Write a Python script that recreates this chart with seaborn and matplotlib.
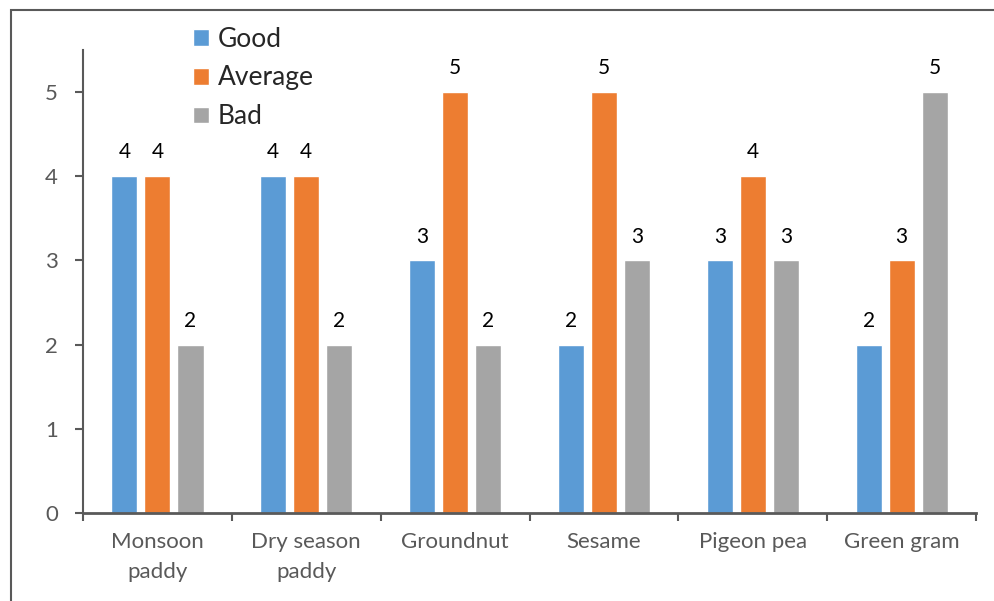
import pandas as pd
import seaborn as sns
import matplotlib.pyplot as plt
from matplotlib.patches import Rectangle

# Chart data
crops = ["Monsoon\npaddy", "Dry season\npaddy", "Groundnut", "Sesame", "Pigeon pea", "Green gram"]
good = [4, 4, 3, 2, 3, 2]
average = [4, 4, 5, 5, 4, 3]
bad = [2, 2, 2, 3, 3, 5]
ratings = ["Good", "Average", "Bad"]
colors = ["#5b9bd5", "#ed7d31", "#a5a5a5"]

rows = []
for i, crop in enumerate(crops):
    rows.append({"Crop": crop, "Rating": "Good", "Score": good[i]})
    rows.append({"Crop": crop, "Rating": "Average", "Score": average[i]})
    rows.append({"Crop": crop, "Rating": "Bad", "Score": bad[i]})
df = pd.DataFrame(rows)

sns.set_style("white")
plt.rcParams['font.family'] = ['Lato', 'DejaVu Sans']
grey = "#595959"

fig = plt.figure(figsize=(9.95, 6.01), dpi=100)
ax = fig.add_axes([0.0834, 0.1464, 0.8976, 0.7704])

sns.barplot(data=df, x="Crop", y="Score", hue="Rating", hue_order=ratings,
            palette=colors, width=0.666, gap=0.21, saturation=1, ax=ax)

# value labels on top of bars
for container in ax.containers:
    ax.bar_label(container, padding=10, fontsize=15, color="black")

ax.set_xlim(-0.5, len(crops) - 0.5)
ax.set_ylim(0, 5.5)
ax.set_yticks(range(0, 6))
ax.set_xlabel("")
ax.set_ylabel("")

# category ticks between groups, labels centred under groups
ax.set_xticks([i - 0.5 for i in range(len(crops) + 1)])
ax.set_xticklabels([])
ax.set_xticks(range(len(crops)), minor=True)
ax.set_xticklabels(crops, minor=True, linespacing=1.6)
ax.tick_params(axis="x", which="major", length=6, width=1.5, color=grey, direction="out", bottom=True)
ax.tick_params(axis="x", which="minor", length=0, pad=14, labelsize=16, labelcolor=grey)
ax.tick_params(axis="y", length=6, width=1.5, color=grey, direction="out", left=True,
               labelsize=16, labelcolor=grey, pad=12)

for side in ["top", "right"]:
    ax.spines[side].set_visible(False)
ax.spines["left"].set_color(grey)
ax.spines["left"].set_linewidth(1.5)
ax.spines["bottom"].set_color(grey)
ax.spines["bottom"].set_linewidth(2)

leg = ax.legend(loc="upper left", bbox_to_anchor=(0.111, 1.073), frameon=False,
                fontsize=19, handlelength=0.6, handleheight=0.6, handletextpad=0.35,
                labelspacing=0.52, borderaxespad=0)

# outer chart frame (partially cropped in the source image)
fig.patches.append(Rectangle((0.011, -0.05), 1.2, 1.0334, transform=fig.transFigure,
                             fill=False, edgecolor=grey, linewidth=1.5))

fig.savefig("out.png", dpi=100)
